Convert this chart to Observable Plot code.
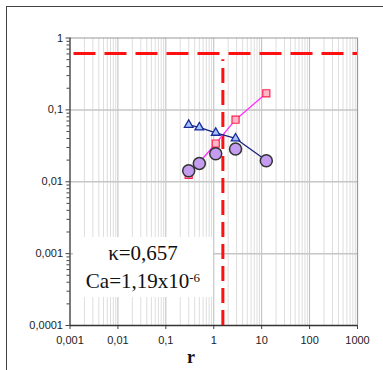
<!DOCTYPE html>
<html><head><meta charset="utf-8">
<script src="https://cdn.jsdelivr.net/npm/d3@7"></script>
<script src="https://cdn.jsdelivr.net/npm/@observablehq/plot@0.6"></script>
<style>
body{margin:0;background:#fff;}
#wrap{position:relative;width:383px;height:370px;overflow:hidden;background:#fff;}
#wrap svg{position:absolute;left:0;top:0;}
#frame{position:absolute;left:6px;top:6px;width:420px;height:420px;border:1.5px solid #444;}
#note{position:absolute;left:73px;top:237px;width:140px;height:60px;background:#fff;font-family:"Liberation Serif",serif;font-size:21px;text-align:center;line-height:28px;padding-top:2px;box-sizing:border-box;color:#111;}
#note sup{font-size:13px;vertical-align:top;position:relative;top:-3px;}
#xlabel{position:absolute;left:187px;top:347px;font-family:"Liberation Serif",serif;font-weight:bold;font-size:18px;line-height:20px;color:#111;}
</style></head><body>
<div id="wrap"></div>
<script>
// data
const squareR = [0.3, 1.1, 2.85, 12.5];
const squareY = [0.0125, 0.034, 0.073, 0.17];
const triangleR = [0.3, 0.5, 1.1, 2.85, 12.5];
const triangleY = [0.062, 0.057, 0.048, 0.040, 0.0198];
const circleR = [0.3, 0.5, 1.1, 2.85, 12.5];
const circleY = [0.0142, 0.018, 0.0245, 0.0285, 0.0196];
const xTicks = [0.001, 0.01, 0.1, 1, 10, 100, 1000];
const yTicks = [0.0001, 0.001, 0.01, 0.1, 1];
const limitY = 0.61;
const limitR = 1.55;
const limitRTop = 0.5;
const kappaText = "κ=0,657";
const caText = "Ca=1,19x10";
const caExp = "-6";
const xTitle = "r";

const fmt = d => String(d).replace(".", ",");
const minors = (lo, hi) => {
  const out = [];
  for (let e = lo; e < hi; e++) for (let m = 2; m <= 9; m++) out.push(+(m * Math.pow(10, e)).toPrecision(3));
  return out;
};
const minorX = minors(-3, 3);
const minorY = minors(-4, 0);
const sq = squareR.map((r, i) => ({r, y: squareY[i]}));
const tr = triangleR.map((r, i) => ({r, y: triangleY[i]}));
const ci = circleR.map((r, i) => ({r, y: circleY[i]}));

const chart = Plot.plot({
  width: 383, height: 370,
  marginLeft: 69.5, marginRight: 26, marginTop: 37.5, marginBottom: 45,
  style: {fontFamily: "'Liberation Sans', Arial, sans-serif", fontSize: "11px", color: "#222", background: "transparent"},
  x: {type: "log", domain: [0.001, 1000]},
  y: {type: "log", domain: [0.0001, 1]},
  marks: [
    Plot.ruleX(minorX, {stroke: "#dedede", strokeWidth: 1}),
    Plot.ruleX(xTicks.slice(1, -1), {stroke: "#bdbdbd", strokeWidth: 1}),
    Plot.ruleY(yTicks.slice(1, -1), {stroke: "#c6c6c6", strokeWidth: 1.5}),
    Plot.ruleY([1], {stroke: "#999", strokeWidth: 1.2}),
    Plot.ruleX([1000], {stroke: "#999", strokeWidth: 1.2}),
    Plot.axisY(minorY, {tickSize: 3, tickFormat: () => "", label: null, stroke: "#444"}),
    Plot.axisY(yTicks, {tickSize: 4, tickPadding: 3, tickFormat: fmt, label: null, stroke: "#444", fill: "#222"}),
    Plot.axisX(xTicks, {tickSize: 4, tickPadding: 7, tickFormat: fmt, label: null, stroke: "#444", fill: "#222"}),
    Plot.ruleX([0.001], {stroke: "#333", strokeWidth: 1.3}),
    Plot.ruleY([0.0001], {stroke: "#333", strokeWidth: 1.3}),
    Plot.ruleY([limitY], {stroke: "#ff1010", strokeWidth: 3, strokeDasharray: "22,9", strokeDashoffset: 27}),
    Plot.ruleX([limitR], {y1: 0.0001, y2: limitRTop, stroke: "#ff1010", strokeWidth: 3, strokeDasharray: "15,7"}),
    Plot.line(sq, {x: "r", y: "y", stroke: "#ff30ff", strokeWidth: 1.3}),
    Plot.line(tr, {x: "r", y: "y", stroke: "#1a237e", strokeWidth: 1.3}),
    Plot.dot(sq, {x: "r", y: "y", symbol: "square", r: 4, fill: "#ffb8c8", stroke: "#ff2050", strokeWidth: 1.2}),
    Plot.dot(tr, {x: "r", y: "y", symbol: "triangle", r: 3.2, fill: "#a8c4ff", stroke: "#1a2a9a", strokeWidth: 1.3}),
    Plot.dot(ci, {x: "r", y: "y", r: 6, fill: "#c49cf0", stroke: "#333", strokeWidth: 1.5})
  ]
});
const wrap = document.getElementById("wrap");
wrap.appendChild(chart);
const frame = document.createElement("div"); frame.id = "frame"; wrap.appendChild(frame);
const note = document.createElement("div"); note.id = "note";
const l1 = document.createElement("div"); l1.textContent = kappaText;
const l2 = document.createElement("div"); l2.textContent = caText;
const s = document.createElement("sup"); s.textContent = caExp; l2.appendChild(s);
note.appendChild(l1); note.appendChild(l2); wrap.appendChild(note);
const xl = document.createElement("div"); xl.id = "xlabel"; xl.textContent = xTitle; wrap.appendChild(xl);
</script>
</body></html>
